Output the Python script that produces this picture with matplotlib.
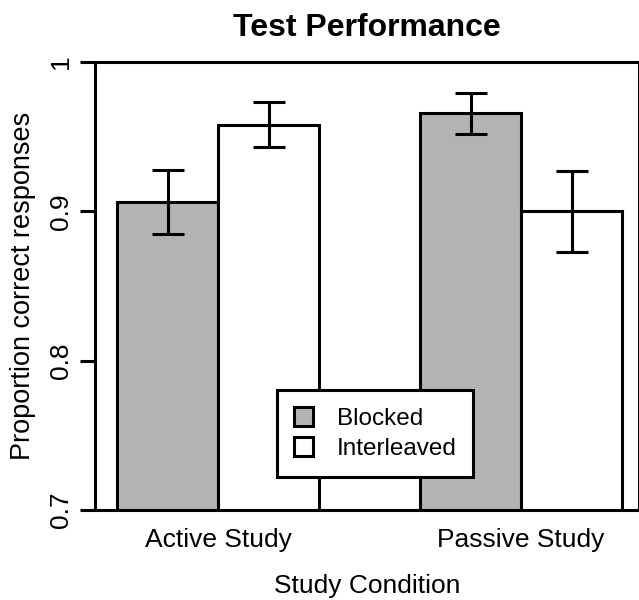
import matplotlib
matplotlib.use('Agg')
import matplotlib.pyplot as plt
from matplotlib.patches import Patch

plt.rcParams['font.family'] = ['Liberation Sans', 'DejaVu Sans']

conditions = ['Active Study', 'Passive Study']
series = ['Blocked', 'Interleaved']
blocked = [0.906, 0.966]
interleaved = [0.958, 0.900]
blocked_err_lo = [0.885, 0.952]
blocked_err_hi = [0.928, 0.979]
inter_err_lo = [0.943, 0.873]
inter_err_hi = [0.973, 0.927]
yticks = [0.7, 0.8, 0.9, 1.0]
ytick_labels = ['0.7', '0.8', '0.9', '1']

colors = ['#b3b3b3', 'white']
lw = 2.2

fig = plt.figure(figsize=(6.39, 6.0), dpi=100)
# axes box in pixels: left 95, right 638.5, bottom 510, top 62
ax = fig.add_axes([95 / 639, 90 / 600, 543.5 / 639, 448 / 600])

# R style barplot positions: bars of width 1 with a gap of 1 between groups
group_left = [1, 4]
for i, vals in enumerate([blocked, interleaved]):
    xs = [g + i + 0.5 for g in group_left]
    ax.bar(xs, vals, width=1, bottom=0, color=colors[i], edgecolor='black',
           linewidth=lw, zorder=2)

for i, (vals, lo, hi) in enumerate([(blocked, blocked_err_lo, blocked_err_hi),
                                    (interleaved, inter_err_lo, inter_err_hi)]):
    xs = [g + i + 0.5 for g in group_left]
    err = [[v - l for v, l in zip(vals, lo)], [h - v for v, h in zip(vals, hi)]]
    ax.errorbar(xs, vals, yerr=err, fmt='none', ecolor='black', elinewidth=lw,
                capsize=11.5, capthick=lw, zorder=3)

ax.set_xlim(0.782, 6.163)
ax.set_ylim(0.7, 1.0)
ax.set_yticks(yticks)
ax.set_yticklabels(ytick_labels, rotation=90, va='center', fontsize=19)
ax.set_xticks([g + 1 for g in group_left])
ax.set_xticklabels(conditions, fontsize=19)
ax.tick_params(axis='x', length=0, pad=13)
ax.tick_params(axis='y', length=11, width=lw, pad=5)
for s in ax.spines.values():
    s.set_linewidth(lw)

ax.set_ylabel('Proportion correct responses', fontsize=19.5, labelpad=9)
ax.set_xlabel('Study Condition', fontsize=19, labelpad=16)
ax.set_title('Test Performance', fontsize=23, fontweight='bold', pad=19)

handles = [Patch(facecolor=colors[i], edgecolor='black', linewidth=lw, label=series[i])
           for i in range(2)]
leg = fig.legend(handles=handles, loc='lower left',
                 bbox_to_anchor=(277 / 639, 1 - 477 / 600), fontsize=17.5,
                 frameon=True, fancybox=False, edgecolor='black', framealpha=1,
                 handlelength=0.8, handleheight=0.8, handletextpad=0.95,
                 borderpad=0.7, labelspacing=0.3, borderaxespad=0)
leg.get_frame().set_linewidth(lw)

fig.savefig('out.png', dpi=100)
